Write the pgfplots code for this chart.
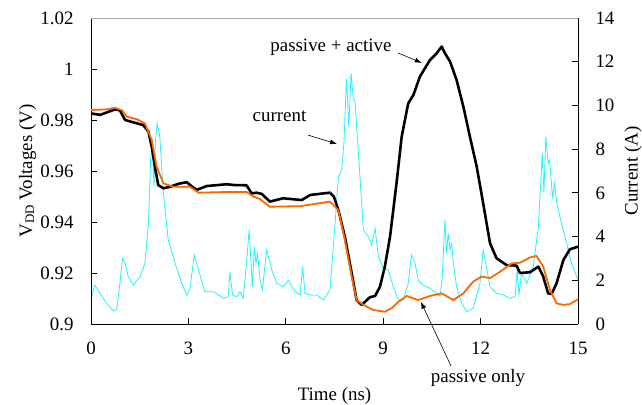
\documentclass[border=0pt]{standalone}
\usepackage{pgfplots}
\pgfplotsset{compat=1.18}
\usepackage{fontspec}
\setmainfont{Liberation Serif}
\usetikzlibrary{arrows.meta}
\definecolor{vorange}{RGB}{255,102,0}
\definecolor{icyan}{RGB}{30,245,255}
\begin{document}
\fontsize{19}{22}\selectfont
\begin{tikzpicture}
\pgfplotsset{
  common/.style={
    scale only axis, width=487bp, height=306bp,
    xmin=0, xmax=15,
    tick align=inside,
    major tick length=6bp,
    tick style={black, line width=0.8pt},
    /pgf/number format/assume math mode=true,
    tick label style={font=\fontsize{19}{22}\selectfont},
    label style={font=\fontsize{19}{22}\selectfont},
    clip=false,
  }
}
% current axis (right)
\begin{axis}[common,
  axis x line=none,
  axis y line*=right,
  axis line style={black, line width=1pt},
  ymin=0, ymax=14,
  ytick={0,2,4,6,8,10,12,14},
  yticklabel style={xshift=11bp},
  ylabel={Current (A)},
  every axis y label/.style={at={(axis description cs:1.1129,0.5)}, anchor=center, rotate=90},
]
\addplot[icyan, line width=0.8pt] coordinates {
(0,1.18) (0.12,1.78) (0.28,1.40) (0.48,0.95) (0.69,0.59) (0.79,0.65) (0.89,1.86) (0.97,3.0)
(1.05,2.78) (1.15,2.16) (1.30,1.78) (1.51,2.16) (1.66,2.78) (1.77,4.6) (1.84,7.65) (1.90,7.96)
(1.94,6.28) (1.98,8.27) (2.04,9.18) (2.12,8.57) (2.23,5.98) (2.38,3.84) (2.59,2.78) (2.79,1.86)
(2.95,1.33) (3.05,1.63) (3.18,3.16) (3.31,2.47) (3.51,1.48) (3.77,1.48) (4.08,1.18) (4.23,1.25)
(4.28,2.39) (4.36,1.33) (4.49,1.25) (4.59,1.48) (4.69,1.18) (4.79,2.78) (4.87,4.30) (4.93,2.78)
(4.97,1.71) (5.03,3.54) (5.08,2.78) (5.13,3.23) (5.20,2.1) (5.28,1.56) (5.41,3.39) (5.57,2.47)
(5.72,1.86) (5.92,1.71) (6.08,2.01) (6.23,1.56) (6.44,1.33) (6.52,2.62) (6.59,1.40) (6.75,1.33)
(6.95,1.33) (7.16,1.10) (7.36,1.56) (7.51,4.45) (7.62,6.74) (7.72,7.05) (7.79,8.27) (7.87,11.24)
(7.94,9.03) (8.01,11.47) (8.08,10.25) (8.13,10.25) (8.23,7.96) (8.39,4.30) (8.54,3.99) (8.64,3.61)
(8.75,4.38) (8.85,3.08) (9.00,2.55) (9.16,2.47) (9.31,1.71) (9.47,1.10) (9.62,1.10) (9.77,1.86)
(9.87,3.16) (9.98,2.78) (10.08,2.0) (10.23,1.78) (10.44,1.63) (10.65,1.40) (10.75,1.25) (10.82,2.16)
(10.90,4.76) (10.95,3.23) (11.0,4.15) (11.06,3.4) (11.11,3.69) (11.16,2.78) (11.26,1.71) (11.42,0.95)
(11.57,0.56) (11.77,0.72) (11.98,1.86) (12.08,3.39) (12.16,2.78) (12.29,1.71) (12.49,1.40) (12.70,1.33)
(12.90,1.18) (13.06,1.25) (13.13,2.47) (13.18,1.33) (13.26,2.31) (13.42,1.86) (13.62,2.62) (13.78,4.45)
(13.85,6.44) (13.90,7.81) (13.95,6.05) (14.01,8.57) (14.08,7.35) (14.13,7.5) (14.21,5.83) (14.28,6.44)
(14.34,5.6) (14.44,4.91) (14.65,3.69) (14.80,2.78) (15.0,2.01)
};
\end{axis}
% voltage axis (left)
\begin{axis}[common,
  axis x line*=bottom,
  axis y line*=left,
  axis line style={black, line width=1pt},
  ymin=0.9, ymax=1.02,
  ytick={0.9,0.92,0.94,0.96,0.98,1,1.02},
  xtick={0,3,6,9,12,15},
  /pgf/number format/fixed,
  /pgf/number format/precision=2,
  yticklabel style={xshift=-11bp},
  xticklabel style={yshift=-11bp},
  xlabel={Time (ns)},
  every axis x label/.style={at={(axis description cs:0.5,-0.236)}, anchor=center},
  ylabel={V{\fontsize{13}{13}\selectfont\raisebox{-2bp}{DD}} Voltages (V)},
  every axis y label/.style={at={(axis description cs:-0.130,0.5)}, anchor=center, rotate=90},
]
\coordinate (bl) at (rel axis cs:0,0);
\coordinate (tr) at (rel axis cs:1,1);
\draw[gray!70, line width=0.8pt] (rel axis cs:0,1) -- (rel axis cs:1,1);
\addplot[black, line width=2.6pt, line join=round] coordinates {
(0,0.9826) (0.28,0.982) (0.6,0.9835) (0.74,0.9842) (0.89,0.9838) (1.05,0.980) (1.30,0.9791) (1.61,0.978)
(1.77,0.9754) (1.87,0.9695) (1.97,0.9617) (2.07,0.9545) (2.23,0.9532) (2.43,0.9538) (2.7,0.955) (2.95,0.9556)
(3.1,0.954) (3.26,0.9526) (3.56,0.9541) (4.18,0.9548) (4.4,0.9545) (4.79,0.9544) (4.95,0.9512) (5.1,0.9515)
(5.26,0.951) (5.51,0.948) (5.92,0.9493) (6.49,0.9486) (6.75,0.9506) (7.36,0.9515) (7.48,0.950) (7.62,0.9447)
(7.82,0.9342) (8.03,0.9199) (8.18,0.9094) (8.34,0.9075) (8.59,0.9105) (8.75,0.911) (8.90,0.9146) (9.05,0.9225)
(9.21,0.9342) (9.41,0.9552) (9.57,0.9735) (9.77,0.9865) (9.93,0.9898) (10.13,0.997) (10.44,1.0035) (10.65,1.0062)
(10.80,1.0088) (10.90,1.0062) (11.06,1.0029) (11.26,0.9957) (11.47,0.9852) (11.67,0.9735) (11.88,0.9617) (12.08,0.9473)
(12.29,0.9317) (12.49,0.9258) (12.80,0.9231) (13.11,0.9229) (13.21,0.920) (13.52,0.9203) (13.78,0.9225) (13.93,0.9186)
(14.08,0.912) (14.19,0.9118) (14.34,0.916) (14.55,0.9251) (14.75,0.9293) (15.0,0.9303)
};
\addplot[vorange, line width=1.8pt, line join=round] coordinates {
(0,0.9839) (0.5,0.9842) (0.74,0.9848) (0.96,0.9838) (1.10,0.9813) (1.41,0.9803) (1.66,0.9787) (1.87,0.9722)
(2.02,0.9617) (2.23,0.9552) (2.53,0.9538) (3.05,0.9538) (3.31,0.9515) (4.28,0.9518) (4.79,0.9518) (5.0,0.950)
(5.2,0.949) (5.51,0.946) (6.44,0.9462) (7.36,0.948) (7.62,0.9447) (7.82,0.9329) (8.03,0.9186) (8.18,0.9094)
(8.39,0.9075) (8.69,0.9055) (9.05,0.9048) (9.26,0.9062) (9.47,0.9087) (9.72,0.911) (10.08,0.9094) (10.44,0.911)
(10.80,0.912) (11.16,0.9094) (11.47,0.912) (11.77,0.9166) (12.03,0.9186) (12.29,0.918) (12.60,0.9205) (12.96,0.9238)
(13.21,0.924) (13.52,0.9261) (13.72,0.9267) (13.93,0.9225) (14.14,0.9133) (14.34,0.9081) (14.55,0.9075) (14.75,0.9078)
(15.0,0.9097)
};
\node[font=\fontsize{19}{22}\selectfont] at (axis cs:7.39,1.0086) {passive + active};
\draw[-{Latex[length=7bp,width=5bp]}, line width=0.6pt] (axis cs:9.455,1.0063) -- (axis cs:10.19,1.0024);
\node[font=\fontsize{19}{22}\selectfont] at (axis cs:5.805,0.9816) {current};
\draw[-{Latex[length=7bp,width=5bp]}, line width=0.6pt] (axis cs:6.68,0.9741) -- (axis cs:7.576,0.9706);
\node[font=\fontsize{19}{22}\selectfont] at (axis cs:11.92,0.8789) {passive only};
\draw[-{Latex[length=7bp,width=5bp]}, line width=0.6pt] (axis cs:11.087,0.8836) -- (axis cs:10.16,0.9087);
\end{axis}
\pgfresetboundingbox
\path[use as bounding box] ([shift={(-91bp,-81bp)}]bl) rectangle ([shift={(64bp,18bp)}]tr);
\end{tikzpicture}
\end{document}
